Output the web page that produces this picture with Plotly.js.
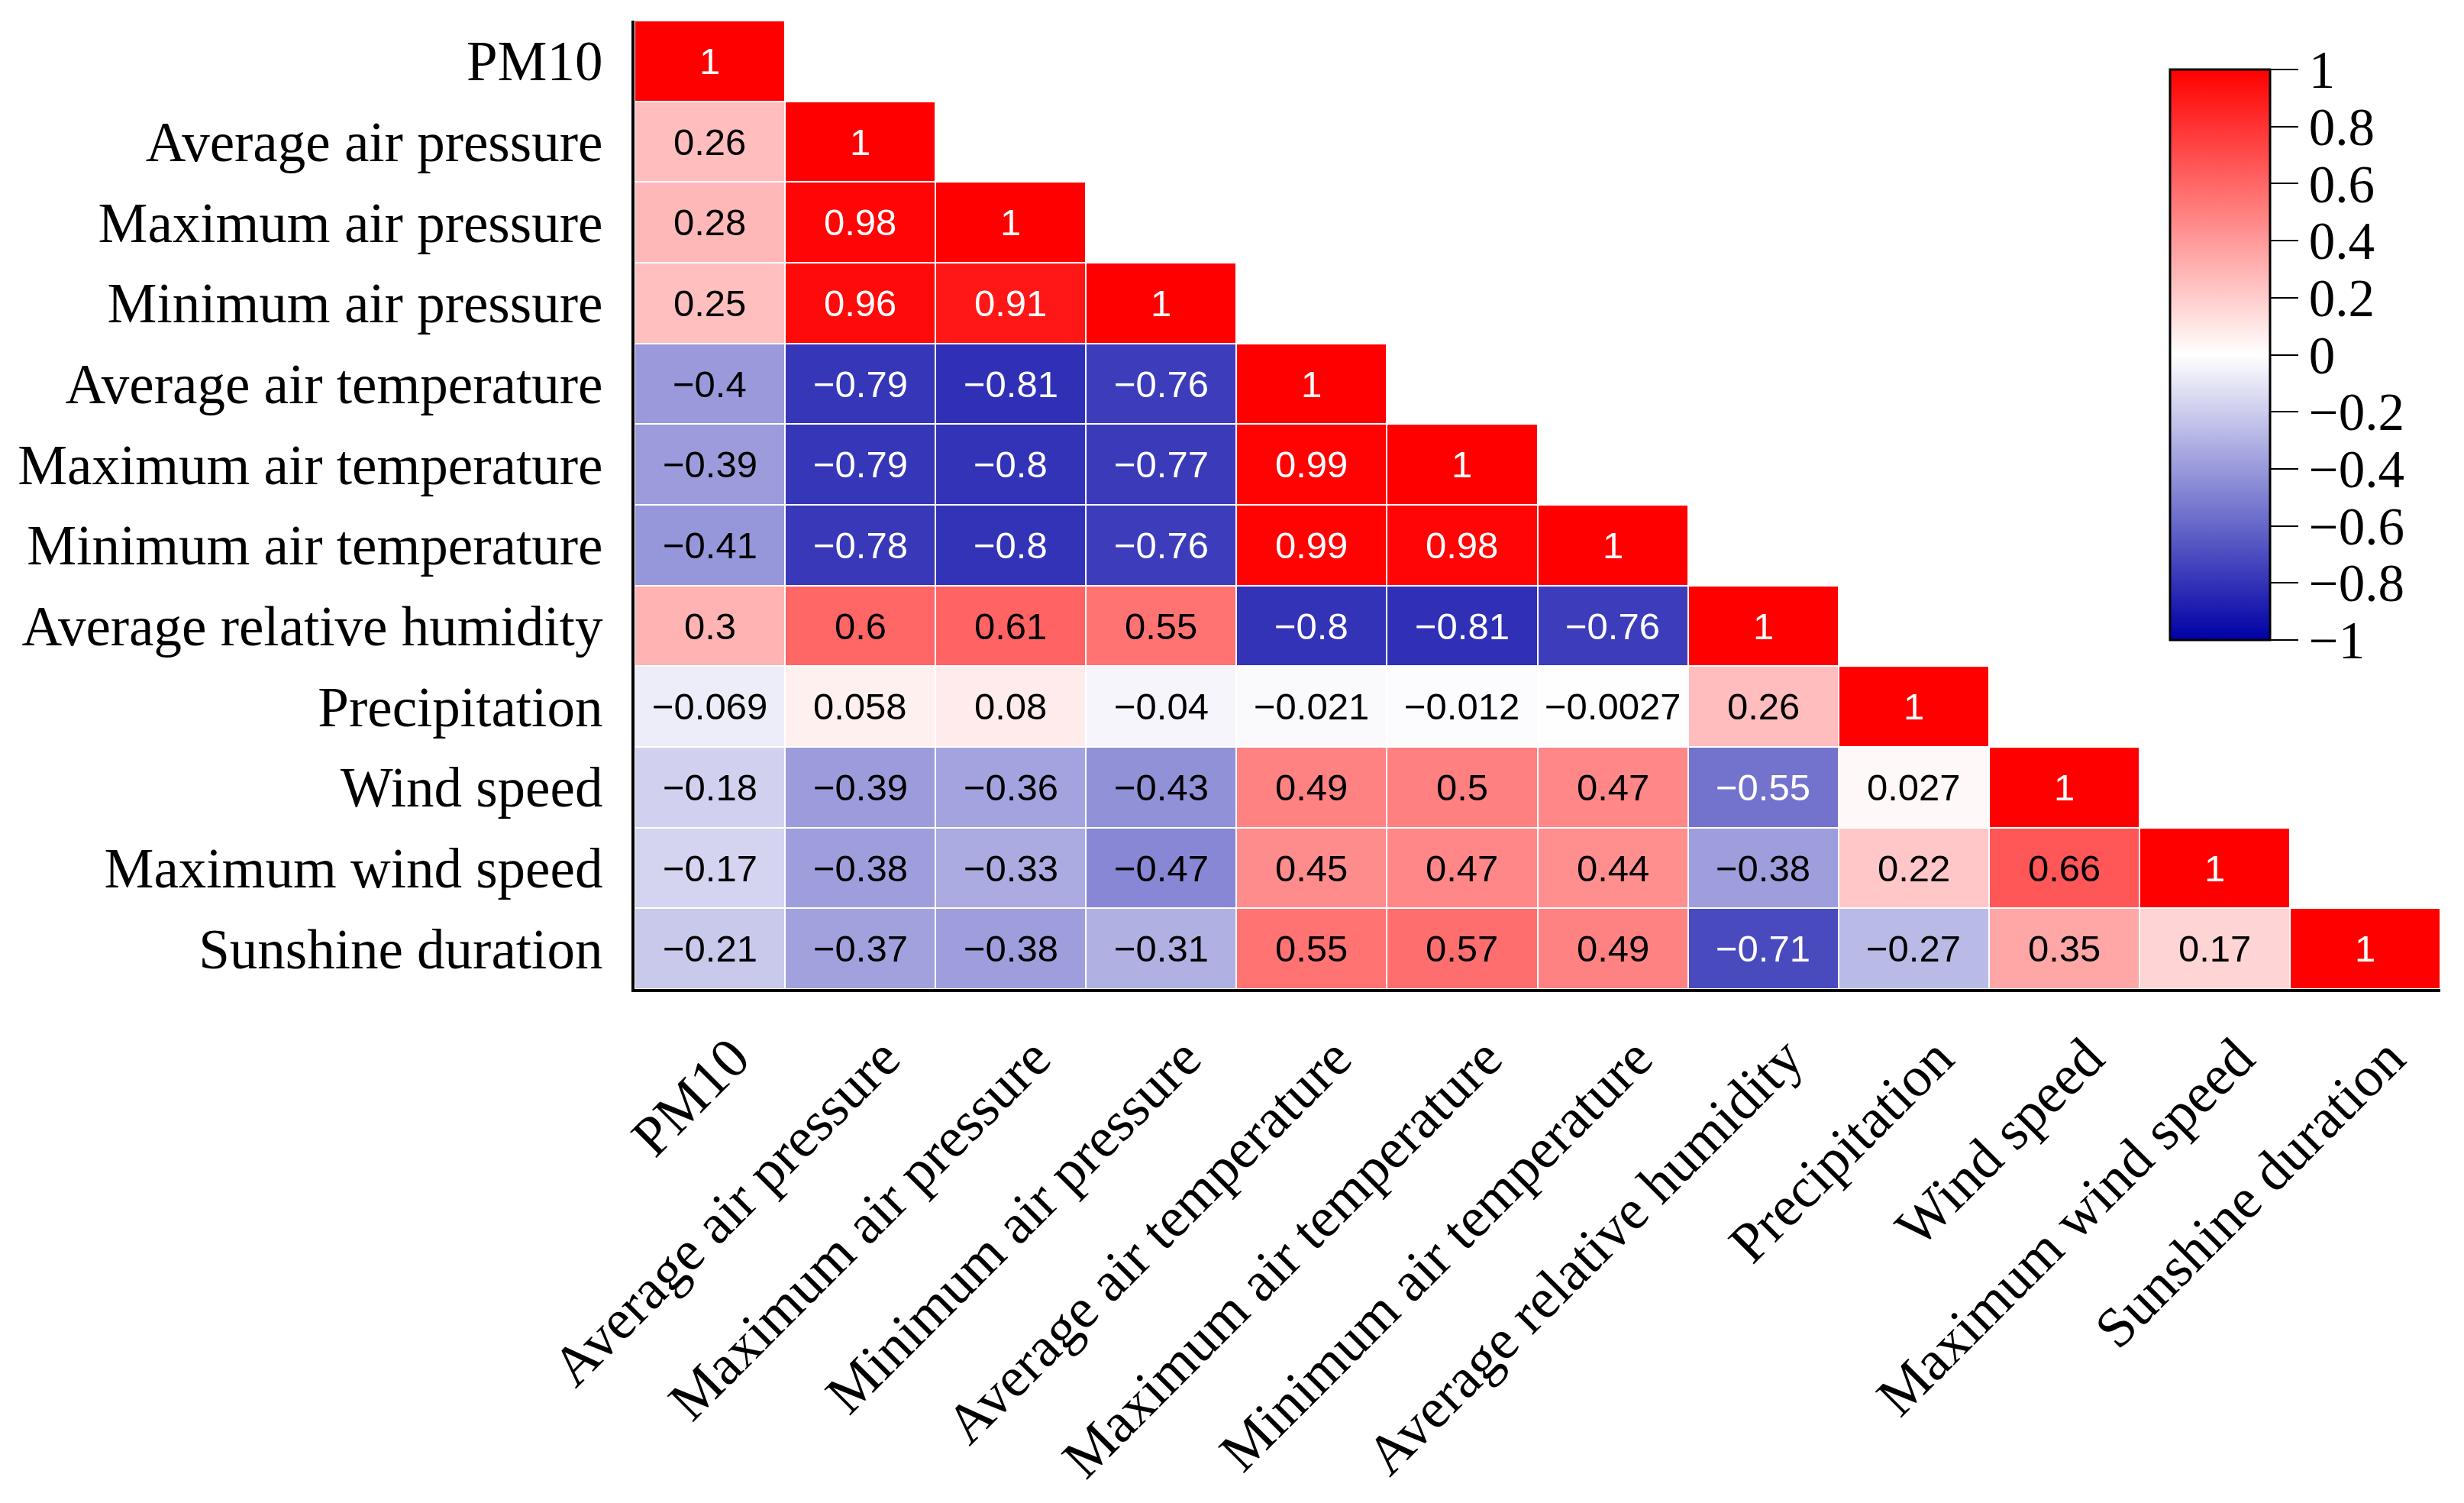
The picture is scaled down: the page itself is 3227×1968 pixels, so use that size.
<!DOCTYPE html>
<html>
<head>
<meta charset="utf-8">
<script src="https://cdn.plot.ly/plotly-3.0.1.min.js"></script>
<style>html,body{margin:0;padding:0;background:#fff;}#chart{width:3227px;height:1968px;}</style>
</head>
<body>
<div id="chart"></div>
<script>
const variables = [
  "PM10",
  "Average air pressure",
  "Maximum air pressure",
  "Minimum air pressure",
  "Average air temperature",
  "Maximum air temperature",
  "Minimum air temperature",
  "Average relative humidity",
  "Precipitation",
  "Wind speed",
  "Maximum wind speed",
  "Sunshine duration"
];

// lower-triangle correlation rows (row i has i+1 values)
const rowPM10        = [1];
const rowAvgPress    = [0.26, 1];
const rowMaxPress    = [0.28, 0.98, 1];
const rowMinPress    = [0.25, 0.96, 0.91, 1];
const rowAvgTemp     = [-0.4, -0.79, -0.81, -0.76, 1];
const rowMaxTemp     = [-0.39, -0.79, -0.8, -0.77, 0.99, 1];
const rowMinTemp     = [-0.41, -0.78, -0.8, -0.76, 0.99, 0.98, 1];
const rowHumidity    = [0.3, 0.6, 0.61, 0.55, -0.8, -0.81, -0.76, 1];
const rowPrecip      = [-0.069, 0.058, 0.08, -0.04, -0.021, -0.012, -0.0027, 0.26, 1];
const rowWind        = [-0.18, -0.39, -0.36, -0.43, 0.49, 0.5, 0.47, -0.55, 0.027, 1];
const rowMaxWind     = [-0.17, -0.38, -0.33, -0.47, 0.45, 0.47, 0.44, -0.38, 0.22, 0.66, 1];
const rowSunshine    = [-0.21, -0.37, -0.38, -0.31, 0.55, 0.57, 0.49, -0.71, -0.27, 0.35, 0.17, 1];

const colorbarTicks = [-1, -0.8, -0.6, -0.4, -0.2, 0, 0.2, 0.4, 0.6, 0.8, 1];

const rowsData = [rowPM10, rowAvgPress, rowMaxPress, rowMinPress, rowAvgTemp, rowMaxTemp,
                  rowMinTemp, rowHumidity, rowPrecip, rowWind, rowMaxWind, rowSunshine];

const fmt = v => String(v).replace('-', '\u2212');

const z = variables.map((_, i) => variables.map((_, j) => (j < rowsData[i].length ? rowsData[i][j] : null)));

const annotations = [];
rowsData.forEach((row, i) => {
  row.forEach((v, j) => {
    annotations.push({
      x: variables[j], y: variables[i], xref: 'x', yref: 'y',
      text: fmt(v), showarrow: false,
      font: {family: 'Liberation Sans, Arial, sans-serif', size: 49,
             color: (v >= 0.9 || v <= -0.5) ? '#ffffff' : '#000000'}
    });
  });
});

const trace = {
  type: 'heatmap',
  x: variables,
  y: variables,
  z: z,
  zmin: -1, zmax: 1,
  xgap: 2, ygap: 2,
  hoverinfo: 'skip',
  colorscale: [[0, 'rgb(0,0,165)'], [0.5, 'rgb(255,255,255)'], [1, 'rgb(255,0,0)']],
  colorbar: {
    x: 0.8503, xanchor: 'left', xpad: 0,
    y: 0.9495, yanchor: 'top', ypad: 0,
    len: 747, lenmode: 'pixels',
    thickness: 131, thicknessmode: 'pixels',
    outlinewidth: 3, outlinecolor: '#000',
    ticks: 'outside', ticklen: 36, tickwidth: 2, tickcolor: '#000',
    tickmode: 'array',
    tickvals: colorbarTicks,
    ticktext: colorbarTicks.map(fmt),
    tickfont: {family: 'Liberation Serif, Times New Roman, serif', size: 69, color: '#000'}
  }
};

const layout = {
  width: 3227, height: 1968,
  margin: {l: 831, r: 31, t: 27, b: 673, pad: 0},
  paper_bgcolor: '#fff', plot_bgcolor: '#fff',
  showlegend: false,
  xaxis: {
    type: 'category', showgrid: false, zeroline: false,
    showline: true, linecolor: '#000', linewidth: 4,
    ticks: '', tickangle: -45, ticklabelstandoff: 13, ticklabelshift: 30,
    tickfont: {family: 'Liberation Serif, Times New Roman, serif', size: 74, color: '#000'}
  },
  yaxis: {
    type: 'category', autorange: 'reversed', showgrid: false, zeroline: false,
    showline: true, linecolor: '#000', linewidth: 4,
    ticks: '', ticklabelstandoff: 23,
    tickfont: {family: 'Liberation Serif, Times New Roman, serif', size: 73, color: '#000'}
  },
  annotations: annotations
};

Plotly.newPlot('chart', [trace], layout, {displayModeBar: false, staticPlot: true});
</script>
</body>
</html>
